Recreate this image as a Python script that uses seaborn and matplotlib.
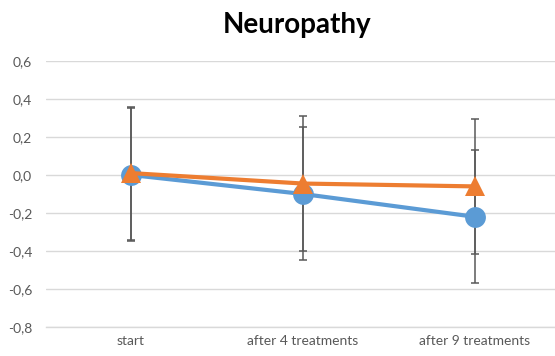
import numpy as np
import pandas as pd
import matplotlib
matplotlib.use("Agg")
import matplotlib.pyplot as plt
import seaborn as sns
from matplotlib.ticker import FuncFormatter, MultipleLocator

# --- data ---
categories = ["start", "after 4 treatments", "after 9 treatments"]
series_a = [0.0, -0.10, -0.22]      # blue, circles
series_b = [0.01, -0.045, -0.06]    # orange, triangles
err_a = [0.35, 0.35, 0.35]
err_b = [0.35, 0.355, 0.355]

BLUE = "#5B9BD5"
ORANGE = "#ED7D31"
GRID = "#D9D9D9"
TEXT = "#595959"

sns.set_theme(style="white")
plt.rcParams['font.family'] = ['Lato', 'DejaVu Sans']

df = pd.DataFrame({
    "time": categories * 2,
    "value": series_a + series_b,
    "group": ["A"] * 3 + ["B"] * 3,
})

fig = plt.figure(figsize=(5.55, 3.56), dpi=100)
ax = fig.add_axes([46 / 555, 29 / 356, (555 - 46) / 555, (327 - 61) / 356])

x = np.arange(len(categories))
# error bars first so the markers sit on top
ax.errorbar(x, series_a, yerr=err_a, fmt="none", ecolor=TEXT, elinewidth=1.1,
            capsize=3, capthick=1.1, zorder=1)
ax.errorbar(x, series_b, yerr=err_b, fmt="none", ecolor=TEXT, elinewidth=1.1,
            capsize=3, capthick=1.1, zorder=1)

sns.lineplot(data=df, x="time", y="value", hue="group", style="group",
             palette=[BLUE, ORANGE], markers=["o", "^"], dashes=False,
             markersize=15, linewidth=3, markeredgewidth=0, legend=False,
             ax=ax, zorder=3)

ax.set_xlim(-0.494, 2.465)
ax.set_ylim(-0.8, 0.6)
ax.yaxis.set_major_locator(MultipleLocator(0.2))
ax.yaxis.set_major_formatter(FuncFormatter(lambda v, p: f"{v:.1f}".replace(".", ",")))
ax.set_xticks(x)
ax.set_xticklabels(categories)
ax.set_xlabel("")
ax.set_ylabel("")

ax.grid(axis="y", color=GRID, linewidth=1)
ax.set_axisbelow(True)
for side in ["top", "right", "left"]:
    ax.spines[side].set_visible(False)
ax.spines["bottom"].set_color(GRID)
ax.spines["bottom"].set_linewidth(1)
ax.tick_params(axis="both", length=0, labelsize=10, labelcolor=TEXT)
ax.tick_params(axis="y", pad=10)
ax.tick_params(axis="x", pad=6)

fig.text(297 / 555, 1 - 25 / 356, "Neuropathy", ha="center", va="center",
         fontsize=20, fontweight="bold", color="black")

fig.savefig("out.png", dpi=100)
